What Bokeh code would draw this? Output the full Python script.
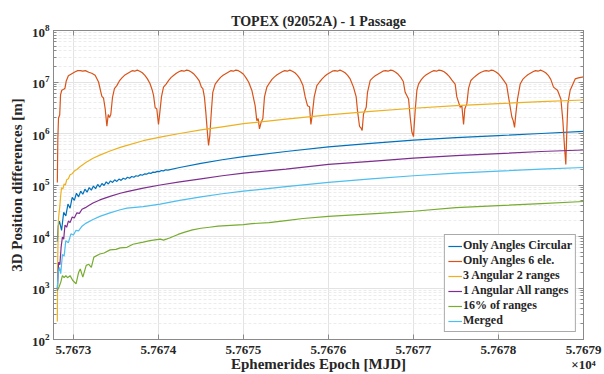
import numpy as np
from bokeh.plotting import figure
from bokeh.models import (FixedTicker, LogTicker, LinearAxis, LogAxis, Legend,
                          LegendItem, Range1d, ColumnDataSource)
from bokeh.embed import file_html
from bokeh.resources import INLINE

FONT = "Liberation Serif"

title_text = "TOPEX (92052A) - 1 Passage"
x_label = "Ephemerides Epoch [MJD]"
y_label = "3D Position differences [m]"
x_multiplier = "×10⁴"

x_ticks = [57673, 57674, 57675, 57676, 57677, 57678, 57679]
x_tick_labels = ["5.7673", "5.7674", "5.7675", "5.7676", "5.7677", "5.7678", "5.7679"]

series_names = ["Only Angles Circular", "Only Angles 6 ele.", "3 Angular 2 ranges",
                "1 Angular All ranges", "16% of ranges", "Merged"]
series_colors = ["#0072BD", "#D95319", "#EDB120", "#7E2F8E", "#77AC30", "#4DBEEE"]

# (MJD, log10 of 3D position difference in m)
only_angles_circular = [
    (57672.810, 3.90), (57672.820, 4.20), (57672.835, 4.30), (57672.860, 4.12),
    (57672.885, 4.47), (57672.910, 4.40), (57672.935, 4.63), (57672.960, 4.55),
    (57672.985, 4.76), (57673.010, 4.70), (57673.035, 4.84), (57673.060, 4.77),
    (57673.085, 4.88), (57673.110, 4.82), (57673.135, 4.92), (57673.160, 4.86),
    (57673.185, 4.95), (57673.210, 4.90), (57673.235, 4.98), (57673.260, 4.93),
    (57673.285, 5.01), (57673.310, 4.96), (57673.335, 5.03), (57673.360, 4.99),
    (57673.385, 5.06), (57673.410, 5.02), (57673.435, 5.08), (57673.460, 5.05),
    (57673.485, 5.10), (57673.510, 5.07), (57673.535, 5.115), (57673.560, 5.09),
    (57673.585, 5.13), (57673.610, 5.11), (57673.635, 5.15), (57673.660, 5.13),
    (57673.685, 5.165), (57673.710, 5.15), (57673.735, 5.18), (57673.760, 5.17),
    (57673.785, 5.20), (57673.810, 5.19), (57673.835, 5.215), (57673.860, 5.21),
    (57673.885, 5.235), (57673.910, 5.225), (57673.935, 5.25), (57673.960, 5.245),
    (57673.985, 5.265), (57674.010, 5.26), (57674.035, 5.28), (57674.060, 5.275),
    (57674.085, 5.295), (57674.110, 5.29), (57674.250, 5.34), (57674.500, 5.42),
    (57674.750, 5.49), (57675.000, 5.55), (57675.500, 5.65), (57676.000, 5.74),
    (57676.500, 5.81), (57677.000, 5.87), (57677.500, 5.92), (57678.000, 5.96),
    (57678.500, 6.00), (57679.000, 6.04),
]

only_angles_6_ele = [
    (57672.810, 5.05), (57672.816, 5.90), (57672.824, 6.30), (57672.838, 6.36),
    (57672.848, 6.75), (57672.862, 6.84), (57672.885, 6.86), (57672.900, 6.88),
    (57672.915, 7.02), (57672.940, 7.12), (57672.980, 7.16), (57673.020, 7.20),
    (57673.050, 7.22), (57673.080, 7.22), (57673.110, 7.21), (57673.140, 7.22),
    (57673.180, 7.19), (57673.215, 7.17), (57673.255, 7.13), (57673.295, 7.00),
    (57673.320, 6.82), (57673.334, 6.72), (57673.353, 6.69), (57673.373, 6.48),
    (57673.393, 6.14), (57673.409, 6.37), (57673.424, 6.31), (57673.439, 6.37),
    (57673.459, 6.70), (57673.482, 6.87), (57673.510, 6.93), (57673.540, 7.02),
    (57673.570, 7.08), (57673.600, 7.13), (57673.630, 7.16), (57673.660, 7.19),
    (57673.690, 7.22), (57673.720, 7.21), (57673.750, 7.23), (57673.780, 7.21),
    (57673.810, 7.18), (57673.840, 7.13), (57673.870, 7.06), (57673.900, 6.97),
    (57673.925, 6.85), (57673.942, 6.74), (57673.961, 6.50), (57673.980, 6.48),
    (57674.000, 6.175), (57674.016, 6.41), (57674.035, 6.71), (57674.059, 6.90),
    (57674.090, 6.96), (57674.120, 7.03), (57674.150, 7.09), (57674.180, 7.13),
    (57674.210, 7.17), (57674.240, 7.20), (57674.270, 7.22), (57674.300, 7.21),
    (57674.330, 7.23), (57674.360, 7.22), (57674.390, 7.19), (57674.420, 7.15),
    (57674.450, 7.09), (57674.480, 7.02), (57674.505, 6.90), (57674.522, 6.87),
    (57674.541, 6.70), (57674.557, 6.41), (57674.577, 5.99), (57674.589, 5.77),
    (57674.604, 5.96), (57674.620, 6.38), (57674.639, 6.80), (57674.667, 6.96),
    (57674.700, 7.03), (57674.730, 7.09), (57674.760, 7.13), (57674.790, 7.16),
    (57674.820, 7.19), (57674.850, 7.22), (57674.880, 7.21), (57674.910, 7.23),
    (57674.940, 7.22), (57674.970, 7.19), (57675.000, 7.15), (57675.030, 7.08),
    (57675.060, 7.00), (57675.098, 6.84), (57675.137, 6.54), (57675.157, 6.25),
    (57675.173, 6.29), (57675.188, 6.09), (57675.208, 6.22), (57675.228, 6.29),
    (57675.247, 6.71), (57675.275, 6.90), (57675.305, 6.98), (57675.335, 7.05),
    (57675.365, 7.10), (57675.395, 7.14), (57675.425, 7.17), (57675.455, 7.20),
    (57675.485, 7.22), (57675.515, 7.21), (57675.545, 7.23), (57675.575, 7.21),
    (57675.605, 7.18), (57675.635, 7.13), (57675.665, 7.06), (57675.700, 6.93),
    (57675.726, 6.71), (57675.753, 6.54), (57675.777, 6.52), (57675.793, 6.175),
    (57675.808, 6.35), (57675.832, 6.71), (57675.863, 6.93), (57675.895, 7.00),
    (57675.925, 7.06), (57675.955, 7.11), (57675.985, 7.15), (57676.015, 7.18),
    (57676.045, 7.21), (57676.075, 7.22), (57676.105, 7.21), (57676.135, 7.23),
    (57676.165, 7.21), (57676.195, 7.18), (57676.225, 7.13), (57676.255, 7.06),
    (57676.294, 6.90), (57676.326, 6.71), (57676.341, 6.45), (57676.365, 6.14),
    (57676.381, 6.11), (57676.396, 6.06), (57676.412, 6.38), (57676.444, 6.51),
    (57676.459, 6.80), (57676.491, 7.03), (57676.520, 7.08), (57676.550, 7.12),
    (57676.580, 7.15), (57676.610, 7.18), (57676.640, 7.21), (57676.670, 7.22),
    (57676.700, 7.21), (57676.730, 7.23), (57676.760, 7.22), (57676.790, 7.19),
    (57676.820, 7.15), (57676.850, 7.09), (57676.880, 7.01), (57676.902, 6.80),
    (57676.942, 6.67), (57676.961, 6.32), (57676.981, 6.03), (57677.000, 5.94),
    (57677.020, 6.45), (57677.040, 6.84), (57677.059, 6.96), (57677.090, 7.04),
    (57677.120, 7.10), (57677.150, 7.14), (57677.180, 7.17), (57677.210, 7.20),
    (57677.240, 7.22), (57677.270, 7.21), (57677.300, 7.23), (57677.330, 7.22),
    (57677.360, 7.20), (57677.390, 7.16), (57677.420, 7.11), (57677.450, 7.04),
    (57677.490, 6.96), (57677.510, 6.71), (57677.530, 6.61), (57677.549, 6.51),
    (57677.569, 6.54), (57677.589, 6.175), (57677.604, 6.48), (57677.628, 6.58),
    (57677.647, 6.87), (57677.675, 7.03), (57677.705, 7.08), (57677.735, 7.12),
    (57677.765, 7.16), (57677.795, 7.19), (57677.825, 7.21), (57677.855, 7.22),
    (57677.885, 7.21), (57677.915, 7.23), (57677.945, 7.22), (57677.975, 7.19),
    (57678.005, 7.15), (57678.035, 7.09), (57678.065, 7.02), (57678.095, 6.95),
    (57678.118, 6.71), (57678.138, 6.51), (57678.157, 6.32), (57678.173, 6.25),
    (57678.189, 6.12), (57678.204, 6.38), (57678.224, 6.67), (57678.255, 6.96),
    (57678.285, 7.05), (57678.315, 7.10), (57678.345, 7.14), (57678.375, 7.17),
    (57678.405, 7.20), (57678.435, 7.22), (57678.465, 7.21), (57678.495, 7.23),
    (57678.525, 7.21), (57678.555, 7.18), (57678.585, 7.13), (57678.615, 7.05),
    (57678.647, 6.90), (57678.694, 6.84), (57678.734, 6.67), (57678.757, 6.25),
    (57678.777, 5.73), (57678.792, 5.40), (57678.804, 6.06), (57678.816, 6.58),
    (57678.843, 6.84), (57678.902, 7.06), (57678.940, 7.08), (57679.000, 7.10),
]

three_angular_2_ranges = [
    (57672.810, 2.35), (57672.815, 3.60), (57672.822, 4.30), (57672.830, 4.45),
    (57672.840, 4.60), (57672.850, 4.80), (57672.860, 4.95), (57672.875, 4.92),
    (57672.890, 5.02), (57672.905, 5.00), (57672.920, 5.10), (57672.940, 5.12),
    (57672.960, 5.20), (57672.985, 5.22), (57673.010, 5.27), (57673.040, 5.30),
    (57673.080, 5.36), (57673.150, 5.44), (57673.230, 5.52), (57673.310, 5.58),
    (57673.430, 5.66), (57673.550, 5.73), (57673.630, 5.77), (57673.820, 5.86),
    (57674.020, 5.93), (57674.250, 6.00), (57674.500, 6.07), (57674.750, 6.13),
    (57675.000, 6.19), (57675.500, 6.28), (57676.000, 6.36), (57676.500, 6.43),
    (57677.000, 6.49), (57677.500, 6.54), (57678.000, 6.58), (57678.500, 6.62),
    (57679.000, 6.65),
]

one_angular_all_ranges = [
    (57672.810, 2.95), (57672.825, 3.50), (57672.840, 3.45), (57672.855, 3.80),
    (57672.870, 3.99), (57672.885, 3.95), (57672.900, 4.22), (57672.920, 4.18),
    (57672.940, 4.30), (57672.960, 4.27), (57672.985, 4.38), (57673.010, 4.36),
    (57673.040, 4.46), (57673.070, 4.45), (57673.100, 4.53), (57673.140, 4.56),
    (57673.180, 4.60), (57673.230, 4.65), (57673.310, 4.71), (57673.430, 4.78),
    (57673.550, 4.84), (57673.630, 4.87), (57673.820, 4.94), (57674.020, 5.00),
    (57674.250, 5.06), (57674.500, 5.12), (57674.750, 5.18), (57675.000, 5.23),
    (57675.500, 5.31), (57676.000, 5.40), (57676.500, 5.46), (57677.000, 5.52),
    (57677.500, 5.57), (57678.000, 5.61), (57678.500, 5.65), (57679.000, 5.68),
]

sixteen_pct_ranges = [
    (57672.810, 2.95), (57672.830, 3.02), (57672.850, 3.11), (57672.870, 3.24),
    (57672.890, 3.20), (57672.910, 3.24), (57672.930, 3.20), (57672.960, 3.24),
    (57672.990, 3.15), (57673.030, 3.08), (57673.060, 3.30), (57673.080, 3.37),
    (57673.110, 3.21), (57673.150, 3.44), (57673.180, 3.46), (57673.210, 3.40),
    (57673.240, 3.60), (57673.310, 3.66), (57673.360, 3.68), (57673.430, 3.74),
    (57673.500, 3.75), (57673.550, 3.78), (57673.630, 3.79), (57673.700, 3.85),
    (57673.820, 3.89), (57673.900, 3.92), (57674.020, 3.95), (57674.060, 3.93),
    (57674.130, 3.97), (57674.230, 4.04), (57674.300, 4.08), (57674.400, 4.13),
    (57674.500, 4.16), (57674.600, 4.18), (57674.700, 4.20), (57674.800, 4.21),
    (57675.000, 4.23), (57675.100, 4.25), (57675.300, 4.27), (57675.500, 4.31),
    (57675.700, 4.35), (57676.000, 4.39), (57676.300, 4.42), (57676.600, 4.45),
    (57677.000, 4.49), (57677.500, 4.56), (57678.000, 4.60), (57678.500, 4.64),
    (57679.000, 4.68),
]

merged = [
    (57672.810, 3.00), (57672.820, 3.30), (57672.835, 3.40), (57672.850, 3.28),
    (57672.870, 3.65), (57672.890, 3.62), (57672.910, 3.92), (57672.940, 3.88),
    (57672.970, 4.05), (57673.000, 4.03), (57673.030, 4.12), (57673.060, 4.11),
    (57673.100, 4.20), (57673.150, 4.26), (57673.230, 4.33), (57673.310, 4.39),
    (57673.430, 4.46), (57673.550, 4.52), (57673.630, 4.55), (57673.820, 4.58),
    (57674.020, 4.63), (57674.250, 4.70), (57674.500, 4.77), (57674.750, 4.83),
    (57675.000, 4.88), (57675.500, 4.97), (57676.000, 5.05), (57676.500, 5.12),
    (57677.000, 5.18), (57677.500, 5.23), (57678.000, 5.27), (57678.500, 5.31),
    (57679.000, 5.34),
]

all_series = [only_angles_circular, only_angles_6_ele, three_angular_2_ranges,
              one_angular_all_ranges, sixteen_pct_ranges, merged]

AX_COLOR = "#8a8a8a"
TXT_COLOR = "#262626"

p = figure(width=604, height=374, y_axis_type="log",
           x_range=Range1d(57672.765, 57679.0), y_range=Range1d(1e2, 1e8),
           output_backend="svg", toolbar_location=None,
           min_border_left=53, min_border_right=21, min_border_top=30,
           min_border_bottom=35)
p.background_fill_color = "white"
p.border_fill_color = "white"
p.outline_line_color = AX_COLOR

p.title.text = title_text
p.title.align = "center"
p.title.text_font = FONT
p.title.text_font_size = "14px"
p.title.text_font_style = "bold"
p.title.text_color = TXT_COLOR
p.title.standoff = 3

renderers = []
for pts, color in zip(all_series, series_colors):
    xs = [pt[0] for pt in pts]
    ys = [10.0 ** pt[1] for pt in pts]
    src = ColumnDataSource(dict(x=xs, y=ys))
    r = p.line("x", "y", source=src, line_color=color, line_width=1.2)
    renderers.append(r)

# axes
xt = FixedTicker(ticks=x_ticks, minor_ticks=[])
yt = LogTicker(num_minor_ticks=10, mantissas=[1], desired_num_ticks=7)
overrides = {t: lab for t, lab in zip(x_ticks, x_tick_labels)}
overrides[x_ticks[-1]] = x_tick_labels[-1] + "\n" + x_multiplier
xa = p.xaxis[0]
xa.ticker = xt
xa.major_label_overrides = overrides
ya = p.yaxis[0]
ya.ticker = yt

# box axes (ticks only) on top and right
top = LinearAxis(ticker=xt)
right = LogAxis(ticker=yt)
p.add_layout(top, "above")
p.add_layout(right, "right")

for ax in [xa, ya, top, right]:
    ax.axis_line_color = AX_COLOR
    ax.major_tick_line_color = AX_COLOR
    ax.minor_tick_line_color = AX_COLOR
    ax.major_tick_in = 5
    ax.major_tick_out = 0
    ax.minor_tick_in = 3
    ax.minor_tick_out = 0
    ax.major_label_text_font = FONT
    ax.major_label_text_font_style = "bold"
    ax.major_label_text_color = TXT_COLOR
    ax.major_label_text_font_size = "13px"
    ax.axis_label_text_font = FONT
    ax.axis_label_text_font_style = "bold"
    ax.axis_label_text_color = TXT_COLOR
    ax.axis_label_text_font_size = "15px"

for ax in [top, right]:
    ax.major_label_text_color = None
    ax.major_label_text_font_size = "1px"
    ax.major_label_standoff = 0

xa.axis_label = x_label
xa.major_label_standoff = 2
xa.major_label_text_line_height = 1.0
xa.axis_label_standoff = -19
ya.axis_label = y_label
ya.major_label_standoff = 4
ya.axis_label_standoff = 4

# grid
p.xgrid.ticker = xt
p.xgrid.grid_line_color = "#e3e3e3"
p.ygrid.grid_line_color = "#e3e3e3"
p.ygrid.minor_grid_line_color = "#ececec"
p.ygrid.minor_grid_line_dash = "3 2"

# legend
legend = Legend(items=[LegendItem(label=n, renderers=[r]) for n, r in zip(series_names, renderers)],
                location="bottom_right")
legend.margin = 7
legend.padding = 3
legend.spacing = 0
legend.glyph_width = 14
legend.glyph_height = 10
legend.label_height = 10
legend.label_standoff = 1
legend.label_text_font = FONT
legend.label_text_font_style = "bold"
legend.label_text_font_size = "12px"
legend.label_text_line_height = 1.0
legend.label_text_color = TXT_COLOR
legend.border_line_color = "#555555"
legend.border_line_width = 1
legend.background_fill_color = "white"
legend.background_fill_alpha = 1.0
p.add_layout(legend)

open("out.html", "w").write(file_html(p, INLINE))
